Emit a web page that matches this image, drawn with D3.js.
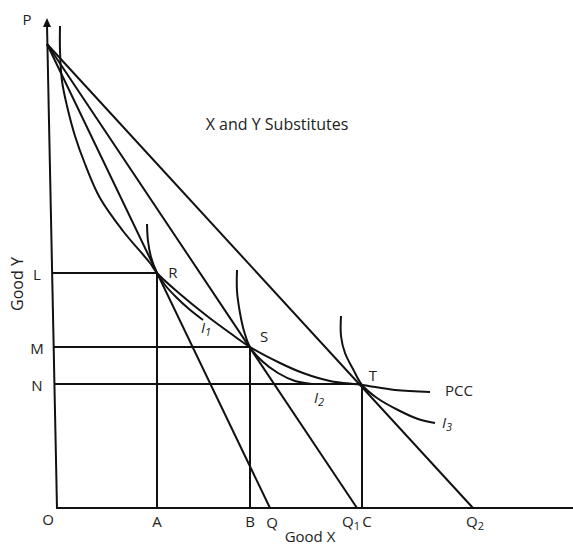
<!DOCTYPE html>
<html><head><meta charset="utf-8">
<script src="https://cdn.jsdelivr.net/npm/d3@7/dist/d3.min.js"></script>
<style>
html,body{margin:0;padding:0;background:#fff;}
svg{display:block;}
text{font-family:"Open Sans",Lato,sans-serif;fill:#222;}
</style></head>
<body>
<script>
// ---- data (units: x/y offsets from origin O) ----
const pointP = {x: -10, y: 464};
const yAxisTop = {x: -10, y: 490};
const xAxisEnd = 516;
const budgetNames = ["Q", "Q1", "Q2"];
const budgetIntercepts = [213, 300, 416];
const eqNames = ["R", "S", "T"];
const eqX = [100, 193, 305];
const eqY = [235, 161, 124];
const yTickLabels = ["L", "M", "N"];
const xTickLabels = ["A", "B", "C"];
const pccCurve = [[3,482],[3,457],[5,427],[10,402],[18,372],[28,344],[43,310],[66,277],[93,245],[100,235],[123,214],[150,192],[173,175],[193,161],[223,145],[246,135],[273,127],[305,123],[338,118],[373,116]];
const i1Curve = [[90,284],[91,267],[94,251],[100,235],[108,223],[119,211],[132,199],[146,188]];
const i2Curve = [[180,238],[180,217],[183,195],[187,177],[193,161],[205,147],[221,135],[238,127],[255,124]];
const i3Curve = [[284,192],[284,172],[288,155],[296,139],[305,123],[320,110],[341,98],[361,89],[378,85]];
const title = "X and Y Substitutes";

const W = 573, H = 546;
const svg = d3.select("body").append("svg").attr("width", W).attr("height", H);
const x = d3.scaleLinear().domain([0, 516]).range([57, 573]);
const y = d3.scaleLinear().domain([0, 490]).range([508, 18]);
const axisXAt = v => yAxisTop.x * v / yAxisTop.y; // tilted y-axis

const stroke = "#111", sw = 2;
const g = svg.append("g").attr("fill", "none").attr("stroke", stroke).attr("stroke-width", sw);

// axes
g.append("line").attr("x1", x(0)).attr("y1", y(0)).attr("x2", x(yAxisTop.x)).attr("y2", y(yAxisTop.y) + 7);
g.append("line").attr("x1", x(0) - 1).attr("y1", y(0)).attr("x2", x(xAxisEnd)).attr("y2", y(0));
svg.append("path")
  .attr("d", `M${x(yAxisTop.x)},${y(yAxisTop.y)} L${x(yAxisTop.x) - 4},${y(yAxisTop.y) + 9} L${x(yAxisTop.x) + 4},${y(yAxisTop.y) + 9} Z`)
  .attr("fill", stroke);

// budget lines
budgetIntercepts.forEach(q => {
  g.append("line").attr("x1", x(pointP.x)).attr("y1", y(pointP.y)).attr("x2", x(q)).attr("y2", y(0));
});

// guide lines
eqX.forEach((ex, i) => {
  g.append("line").attr("x1", x(axisXAt(eqY[i]))).attr("y1", y(eqY[i])).attr("x2", x(ex)).attr("y2", y(eqY[i]));
  g.append("line").attr("x1", x(ex)).attr("y1", y(eqY[i])).attr("x2", x(ex)).attr("y2", y(0));
});

// curves
const line = d3.line().x(d => x(d[0])).y(d => y(d[1])).curve(d3.curveCatmullRom.alpha(0.5));
[pccCurve, i1Curve, i2Curve, i3Curve].forEach(c => g.append("path").attr("d", line(c)));

// text
const T = svg.append("g").attr("font-size", 15);
function lab(txt, px, py, opts = {}) {
  const t = T.append("text").attr("x", px).attr("y", py).attr("text-anchor", opts.anchor || "middle")
    .attr("dominant-baseline", "central");
  if (opts.italic) t.attr("font-style", "italic");
  if (opts.size) t.attr("font-size", opts.size);
  const m = txt.match(/^(.*?)(\d)$/);
  if (m && opts.sub) {
    t.append("tspan").text(m[1]);
    t.append("tspan").attr("font-size", 11).attr("dy", 4).text(m[2]);
  } else t.text(txt);
  return t;
}
lab(title, 277, 124, {size: 16});
lab("P", 27, 19);
yTickLabels.forEach((l, i) => lab(l, 37, y(eqY[i]) + 1));
lab("O", 48, 519);
xTickLabels.forEach((l, i) => lab(l, x(eqX[i]) + (i === 2 ? 5 : 0), 521));
lab("Q", x(budgetIntercepts[0]) + 2, 522);
lab("Q1", x(budgetIntercepts[1]) - 6, 521, {sub: true});
lab("Q2", x(budgetIntercepts[2]) + 2, 521, {sub: true});
lab("Good X", 310, 536, {size: 15});
svg.append("text").attr("transform", "translate(17,284) rotate(-90)").attr("text-anchor", "middle")
  .attr("dominant-baseline", "central").attr("font-size", 16).text("Good Y");
eqNames.forEach((n, i) => {
  const off = [[16, -1], [14, -11], [11, -9]][i];
  lab(n, x(eqX[i]) + off[0], y(eqY[i]) + off[1]);
});
lab("I1", 206, 327, {sub: true, italic: true});
lab("I2", 319, 397, {sub: true, italic: true});
lab("I3", 447, 422, {sub: true, italic: true});
lab("PCC", 445, 390, {anchor: "start"});
</script>
</body></html>
